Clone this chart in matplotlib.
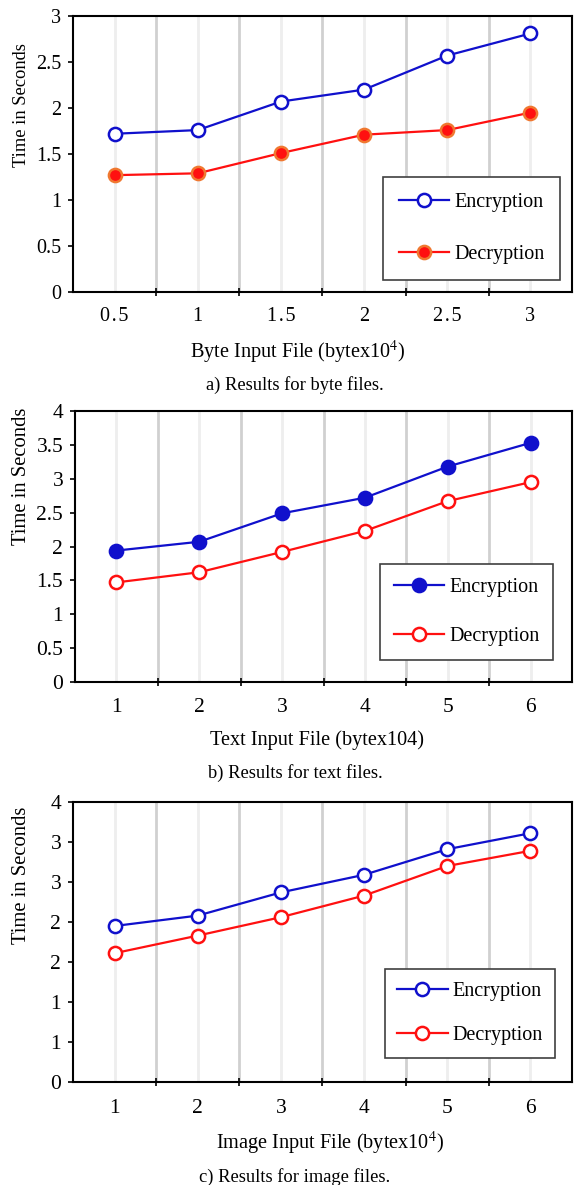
import matplotlib.pyplot as plt
import numpy as np

# ---- data ----
hs = '\u200a'  # the byte panel prints its decimals a little spread out
byte_sizes = ['0' + hs + '.' + hs + '5', '1', '1' + hs + '.' + hs + '5', '2', '2' + hs + '.' + hs + '5', '3']
byte_enc = [1.72, 1.76, 2.07, 2.20, 2.57, 2.81]
byte_dec = [1.27, 1.29, 1.51, 1.71, 1.76, 1.95]

text_sizes = ['1', '2', '3', '4', '5', '6']
text_enc = [1.94, 2.07, 2.49, 2.72, 3.18, 3.53]
text_dec = [1.47, 1.62, 1.92, 2.23, 2.67, 2.95]

image_sizes = ['1', '2', '3', '4', '5', '6']
image_enc = [1.95, 2.08, 2.37, 2.59, 2.91, 3.11]
image_dec = [1.61, 1.83, 2.06, 2.33, 2.70, 2.89]

byte_yticks = [0, 0.5, 1, 1.5, 2, 2.5, 3]
byte_ylabels = ['0', '0.5', '1', '1.5', '2', '2.5', '3']
text_yticks = [0, 0.5, 1, 1.5, 2, 2.5, 3, 3.5, 4]
text_ylabels = ['0', '0.5', '1', '1.5', '2', '2.5', '3', '3.5', '4']
# the image panel prints its half steps rounded to whole numbers
image_yticks = [0, 0.5, 1, 1.5, 2, 2.5, 3, 3.5]
image_ylabels = ['0', '1', '1', '2', '2', '3', '3', '4']

plt.rcParams['font.family'] = ['Liberation Serif', 'DejaVu Serif']
plt.rcParams['mathtext.fontset'] = 'stix'

W, H = 574, 1185
fig = plt.figure(figsize=(W / 100, H / 100), dpi=100)

BLUE = '#1010cc'
RED = '#ff1010'


def px_axes(left, top, right, bottom):
    return fig.add_axes([left / W, 1 - bottom / H, (right - left) / W, (bottom - top) / H])


def panel(box, cats, enc, dec, yticks, ylabels, ymax, enc_style, dec_style, tick_fs, xpad,
          xlabel, xlabel_pos, caption, caption_pos, ylab_top, ylab_fs, leg_center, leg_ls, leg_bp):
    ax = px_axes(*box)
    x = np.arange(len(cats))
    # light lines at category centres, darker ones on the borders
    for xc in x:
        ax.axvline(xc, color='#eeeeee', lw=2, zorder=0)
    for xb in x[:-1] + 0.5:
        ax.axvline(xb, color='#d0d0d0', lw=2, zorder=0)
    ax.plot(x, enc, color=BLUE, lw=1.6, marker='o', ms=9.5, mew=1.8, label='Encryption', **enc_style)
    ax.plot(x, dec, color=RED, lw=1.6, marker='o', ms=9.5, mew=1.8, label='Decryption', **dec_style)
    ax.set_xlim(-0.5, len(cats) - 0.5)
    ax.set_ylim(0, ymax)
    ax.set_xticks(x)
    ax.set_xticklabels(cats, fontsize=tick_fs)
    ax.set_xticks(x[:-1] + 0.5, minor=True)
    ax.tick_params(axis='x', which='major', length=0, pad=xpad)
    ax.tick_params(axis='x', which='minor', length=6, width=1.2, direction='inout')
    ax.set_yticks(yticks)
    ax.set_yticklabels(ylabels, fontsize=tick_fs)
    ax.tick_params(axis='y', length=3.5, width=1.2, direction='out', pad=5)
    for s in ax.spines.values():
        s.set_linewidth(1.5)
        s.set_color('black')
    fig.text(xlabel_pos[0] / W, 1 - xlabel_pos[1] / H, xlabel, ha='center', va='center', fontsize=14.6)
    fig.text(caption_pos[0] / W, 1 - caption_pos[1] / H, caption, ha='center', va='center', fontsize=13.3)
    fig.text(22 / W, 1 - ylab_top / H, 'Time in Seconds', rotation=90, ha='center', va='top',
             fontsize=ylab_fs)
    leg = ax.legend(loc='center', bbox_to_anchor=(leg_center[0] / W, 1 - leg_center[1] / H),
                    bbox_transform=fig.transFigure, fontsize=14.5, frameon=True, fancybox=False,
                    framealpha=1, edgecolor='#404040', handlelength=2.5, handletextpad=0.25,
                    labelspacing=leg_ls, borderpad=leg_bp, borderaxespad=0)
    leg.get_frame().set_linewidth(1.2)
    return ax


open_m = dict(mfc='white')
panel((73, 16, 572, 292), byte_sizes, byte_enc, byte_dec, byte_yticks, byte_ylabels, 3,
      open_m, dict(mfc=RED, mec='#f07830'), 14.5, 11,
      'Byte Input File (bytex10$^4$)', (298, 352), 'a) Results for byte files.', (295, 385),
      43, 13.3, (471.5, 228.5), 1.6, 0.8)

panel((75, 411, 572, 682), text_sizes, text_enc, text_dec, text_yticks, text_ylabels, 4,
      dict(mfc=BLUE), open_m, 15.5, 11.5,
      'Text Input File (bytex104)', (317, 740), 'b) Results for text files.', (295, 773),
      408, 14.9, (466.5, 612), 1.45, 0.7)

panel((73, 802, 572, 1082), image_sizes, image_enc, image_dec, image_yticks, image_ylabels, 3.5,
      open_m, open_m, 15.5, 12,
      'Image Input File (bytex10$^4$)', (330, 1143), 'c) Results for image files.', (295, 1177),
      807, 14.9, (470, 1013.5), 1.25, 0.62)

fig.savefig('out.png', dpi=100)
